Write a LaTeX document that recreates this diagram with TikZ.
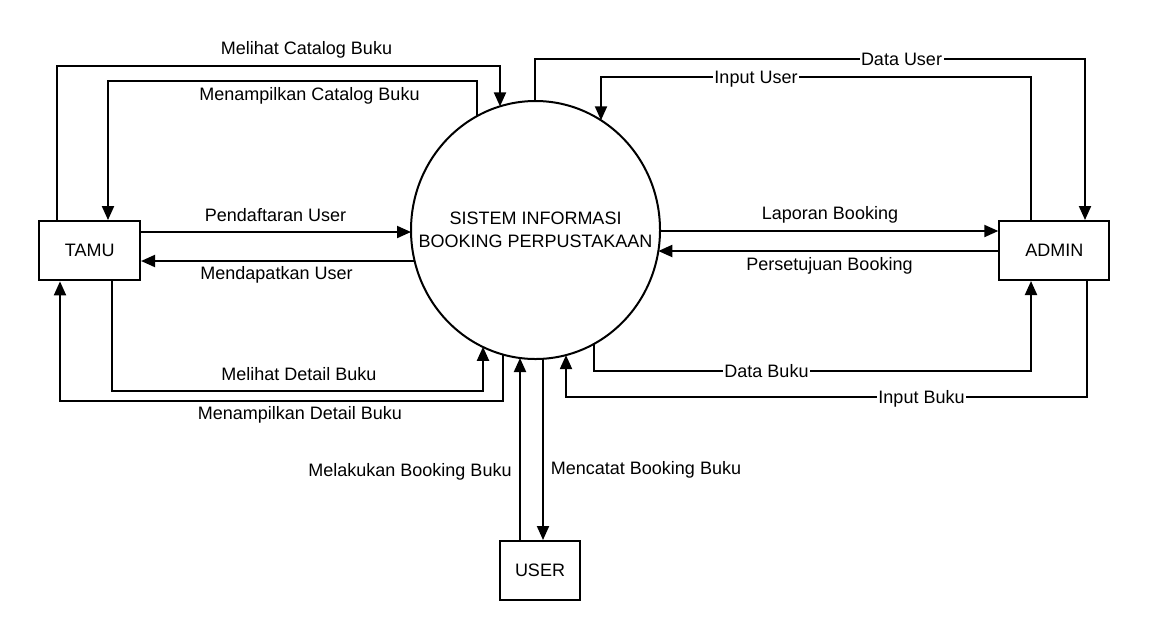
\documentclass[tikz,border=0pt]{standalone}
\usepackage{fontspec}
\setmainfont{Liberation Sans}
\usetikzlibrary{arrows.meta,shapes.geometric}
\begin{document}
\begin{tikzpicture}[x=1pt,y=-1pt,
  box/.style={draw,line width=2pt,inner sep=0pt,font=\fontsize{18}{20}\selectfont},
  proc/.style={draw,ellipse,line width=2pt,inner sep=0pt,align=center,font=\fontsize{18}{23}\selectfont},
  flow/.style={line width=2pt,-{Triangle[length=14pt,width=12pt]}},
  lbl/.style={font=\fontsize{18}{20}\selectfont,inner sep=0pt,text height=13pt,text depth=0pt},
  onl/.style={lbl,fill=white,inner xsep=1.5pt,inner ysep=2pt}]
\useasboundingbox (0,0) rectangle (1150,641);
\fill[white] (0,0) rectangle (1150,641);

% nodes
\node[box,minimum width=100.7pt,minimum height=59.3pt] (tamu) at (89.7,250.7) {TAMU};
\node[box,minimum width=110pt,minimum height=59pt] (admin) at (1054.3,250.5) {ADMIN};
\node[box,minimum width=80pt,minimum height=59pt] (user) at (540,570.5) {USER};
\node[proc,minimum width=249pt,minimum height=258pt] (sys) at (535.5,230)
  {\makebox[0pt]{SISTEM INFORMASI}\\\makebox[0pt]{BOOKING PERPUSTAKAAN}};

% points on the process border
\coordinate (e1) at (500,106.4);
\coordinate (e2) at (477,116.1);
\coordinate (e3) at (535,101);
\coordinate (e4) at (601,120.3);
\coordinate (e5) at (411,232);
\coordinate (e6) at (414.6,261);
\coordinate (e7) at (660,231);
\coordinate (e8) at (658.3,251);
\coordinate (e9) at (483,346.8);
\coordinate (e10) at (503,354.4);
\coordinate (e11) at (520,358);
\coordinate (e12) at (543,358.8);
\coordinate (e13) at (594,343.9);
\coordinate (e14) at (566,355.1);

% connectors
\draw[flow] ([xshift=-32.7pt]tamu.north) -- (57,66) -- (500,66) -- (e1);
\draw[flow] (e2) -- (477,81) -- (108,81) -- ([xshift=18.3pt]tamu.north);
\draw[flow] (e3) -- (535,59) -- (1085,59) -- ([xshift=30.7pt]admin.north);
\draw[flow] ([xshift=-23.3pt]admin.north) -- (1031,77) -- (601,77) -- (e4);
\draw[flow] ([yshift=18.7pt]tamu.east) -- (e5);
\draw[flow] (e6) -- ([yshift=-10.3pt]tamu.east);
\draw[flow] (e7) -- ([yshift=19.5pt]admin.west);
\draw[flow] ([yshift=-0.5pt]admin.west) -- (e8);
\draw[flow] ([xshift=22.3pt]tamu.south) -- (112,391) -- (483,391) -- (e9);
\draw[flow] (e10) -- (503,401) -- (60,401) -- ([xshift=-29.7pt]tamu.south);
\draw[flow] ([xshift=-20pt]user.north) -- (e11);
\draw[flow] (e12) -- ([xshift=3pt]user.north);
\draw[flow] (e13) -- (594,371) -- (1031,371) -- ([xshift=-23.3pt]admin.south);
\draw[flow] ([xshift=32.7pt]admin.south) -- (1087,397) -- (566,397) -- (e14);

% labels
\node[lbl] (l1) at (306.5,48) {Melihat Catalog Buku};
\node[lbl] (l2) at (309.5,94) {Menampilkan Catalog Buku};
\node[onl] (l3) at (901.5,59) {Data User};
\node[onl] (l4) at (756,77) {Input User};
\node[lbl] (l5) at (275.5,215) {Pendaftaran User};
\node[lbl] (l6) at (276.5,273) {Mendapatkan User};
\node[lbl] (l7) at (830,213) {Laporan Booking};
\node[lbl] (l8) at (829.5,264) {Persetujuan Booking};
\node[lbl] (l9) at (299,374) {Melihat Detail Buku};
\node[lbl] (l10) at (300,413) {Menampilkan Detail Buku};
\node[onl] (l11) at (766.5,371) {Data Buku};
\node[onl] (l12) at (921.5,397) {Input Buku};
\node[lbl] (l13) at (410,470) {Melakukan Booking Buku};
\node[lbl] (l14) at (646,468) {Mencatat Booking Buku};
\end{tikzpicture}
\end{document}
